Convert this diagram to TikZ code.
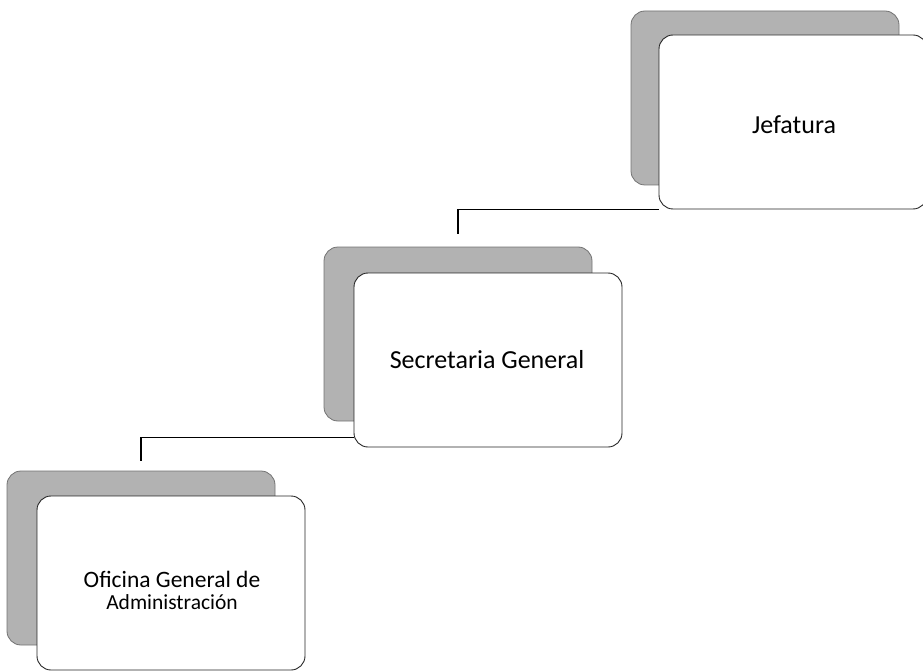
\documentclass[tikz,border=0pt]{standalone}
\usepackage{fontspec}
\setmainfont{Carlito}
\begin{document}
\begin{tikzpicture}[x=1pt,y=-1pt,
  shadowbox/.style={draw=black!55,fill=black!30,rounded corners=14pt,minimum width=268pt,minimum height=174pt,inner sep=0pt,line width=0.8pt},
  frontbox/.style={draw=black!85,fill=white,rounded corners=14pt,minimum width=268pt,minimum height=174pt,inner sep=0pt,line width=0.9pt},
  lbl/.style={font=\fontsize{26}{30}\selectfont,align=center,inner sep=0pt},
  conn/.style={draw=black,line width=1.6pt}]
\useasboundingbox (0,0) rectangle (923,671);
% Jefatura
\node[shadowbox] (jg) at (765,98) {};
\node[frontbox] (jw) at (793,122) {};
\node[lbl] (jt) at (794,125) {Jefatura};
% Secretaria General
\node[shadowbox] (sg) at (458,334) {};
\node[frontbox] (sw) at (488,360) {};
\node[lbl] (st) at (487,360) {Secretaria General};
% Oficina General de Administracion
\node[shadowbox] (og) at (141,558) {};
\node[frontbox] (ow) at (171,583) {};
\node[lbl,font=\fontsize{23.5}{22}\selectfont] (ot) at (172,590) {Oficina General de\\{\fontsize{21.5}{22}\selectfont Administración}};
% connectors
\draw[conn] (jw.south west) -| ([yshift=13pt]sg.north);
\draw[conn] ([yshift=10pt]sw.south west) -| ([yshift=10pt]og.north);
\end{tikzpicture}
\end{document}
